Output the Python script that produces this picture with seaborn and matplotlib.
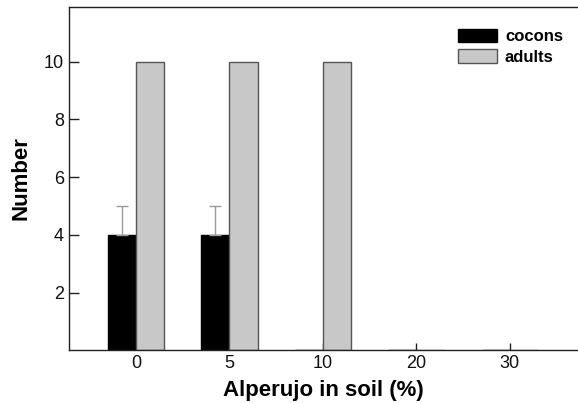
import matplotlib
matplotlib.use("Agg")
import matplotlib.pyplot as plt
import seaborn as sns
import pandas as pd
import numpy as np

categories = ["0", "5", "10", "20", "30"]
cocons = [4, 4, 0, 0, 0]
adults = [10, 10, 10, 0, 0]
cocons_err = [1, 1, 0, 0, 0]
series = ["cocons", "adults"]
yticks = [2, 4, 6, 8, 10]

sns.set_theme(style="ticks")
plt.rcParams['font.family'] = ['Liberation Sans', 'DejaVu Sans']
plt.rcParams['text.color'] = '#000000'

df = pd.DataFrame({
    "cat": categories * 2,
    "val": cocons + adults,
    "series": ["cocons"] * len(categories) + ["adults"] * len(categories),
})

fig = plt.figure(figsize=(5.78, 4.03), dpi=100)
ax = fig.add_axes([0.119, 0.131, 0.881, 0.852])

palette = {"cocons": "#000000", "adults": "#c8c8c8"}
sns.barplot(data=df, x="cat", y="val", hue="series", hue_order=series,
            order=categories, palette=palette, width=0.6, ax=ax,
            errorbar=None, saturation=1, linewidth=1.0)

n = len(categories)
bars = ax.patches[:2 * n]
for i, p in enumerate(bars):
    if i < n:
        p.set_edgecolor("#000000")
    else:
        p.set_edgecolor("#555555")

for i, p in enumerate(bars[:n]):
    if cocons_err[i] > 0:
        xc = p.get_x() + p.get_width() / 2
        ax.errorbar([xc], [cocons[i]], yerr=[[0], [cocons_err[i]]],
                    fmt="none", ecolor="#9a9a9a", elinewidth=1.0,
                    capsize=4, capthick=1.0)

ax.set_xlim(-0.72, 4.73)
ax.set_ylim(0, 11.9)
ax.set_yticks(yticks)
ax.tick_params(axis="both", direction="in", labelsize=13, colors="#222222",
               labelcolor="#111111")
ax.tick_params(axis="y", length=7, width=1)
ax.tick_params(axis="x", length=5, width=1)
for s in ["left", "bottom", "top"]:
    ax.spines[s].set_color("#222222")
    ax.spines[s].set_linewidth(1.0)
ax.spines["right"].set_visible(False)

ax.set_xlabel("Alperujo in soil (%)", fontsize=16, fontweight="bold", labelpad=6,
              color="#000000")
ax.set_ylabel("Number", fontsize=16, fontweight="bold", labelpad=9,
              color="#000000")

leg = ax.legend(loc="upper right", frameon=False, prop={"weight": "bold", "size": 12},
                handlelength=2.35, handleheight=0.85, handletextpad=0.45,
                labelspacing=0.3, bbox_to_anchor=(0.99, 0.965), borderaxespad=0.2)
for t in leg.get_texts():
    t.set_color("#000000")
leg.legend_handles[0].set_edgecolor("#000000")
leg.legend_handles[1].set_edgecolor("#555555")

fig.savefig("out.png", dpi=100)
